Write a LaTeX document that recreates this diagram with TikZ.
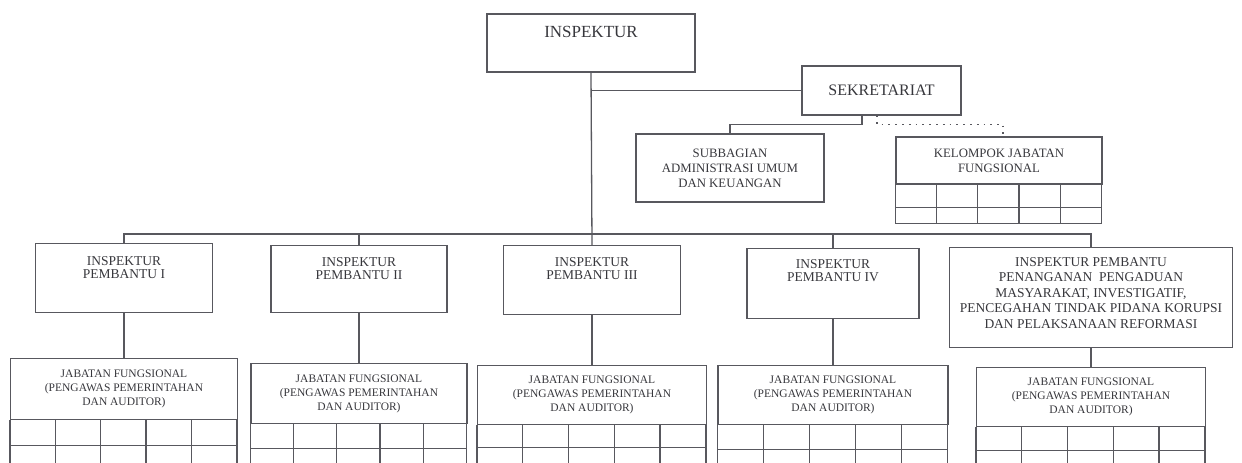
\documentclass[tikz,border=0pt]{standalone}
\usepackage{fontspec}
\setmainfont{Liberation Serif}
\usetikzlibrary{positioning,calc}
\definecolor{ScanInk}{RGB}{55,55,60}
\definecolor{ScanLine}{RGB}{88,88,94}

\tikzset{
  frame/.style={draw=ScanLine, line width=1.3pt, inner sep=0pt, text=ScanInk, align=center},
  caption/.style={inner sep=0pt, text=ScanInk, align=center},
  link/.style={draw=ScanLine, line width=1.3pt},
  dotlink/.style={link, line width=1.6pt, dash pattern=on 1.8pt off 5pt},
  cell/.style={draw=ScanLine, line width=1.3pt},
}
\newcommand{\fbig}{\fontsize{17}{20}\selectfont}
\newcommand{\fmid}{\fontsize{16}{19}\selectfont}
\newcommand{\fsub}{\fontsize{12.8}{15}\selectfont}
\newcommand{\firb}{\fontsize{13.5}{13.5}\selectfont}
\newcommand{\firbw}{\fontsize{13.5}{15.5}\selectfont}
\newcommand{\fjf}{\fontsize{11.5}{14}\selectfont}

\begin{document}
\begin{tikzpicture}[x=1pt,y=-1pt]
  \useasboundingbox (0,0) rectangle (1242,463);
  \clip (0,0) rectangle (1242,463);

  % pimpinan dan sekretariat
  \node[frame, minimum width=208pt, minimum height=58pt] (inspektur) at (591,43) {};
  \node[caption, font=\fbig, below=13pt of inspektur.north] (inspektur-t) {INSPEKTUR};
  \node[frame, font=\fmid, minimum width=159pt, minimum height=49pt] (sekretariat) at (881.5,90.5) {SEKRETARIAT};
  \node[frame, font=\fsub, minimum width=188pt, minimum height=68pt] (subbag) at (730,168)
    {SUBBAGIAN\\ADMINISTRASI UMUM\\DAN KEUANGAN};
  \node[frame, font=\fsub, minimum width=206pt, minimum height=47pt] (kelompok) at (999,160.5)
    {KELOMPOK JABATAN\\FUNGSIONAL};
  \draw[cell] (kelompok.south west) rectangle ++(206,39);
  \draw[cell] ($(kelompok.south west)+(0,23)$) -- ++(206,0);
  \foreach \c in {1,...,4}
    \draw[cell] ($(kelompok.south west)+(\c*41.2,0)$) -- ++(0,39);

  % inspektur pembantu
  \node[frame, minimum width=177pt, minimum height=69pt, anchor=north] (irban1) at (124,243) {};
  \node[caption, font=\firb, below=13pt of irban1.north] (irban1-t) {INSPEKTUR\\PEMBANTU I};
  \node[frame, minimum width=176pt, minimum height=67pt, anchor=north] (irban2) at (359,245) {};
  \node[caption, font=\firb, below=12pt of irban2.north] (irban2-t) {INSPEKTUR\\PEMBANTU II};
  \node[frame, minimum width=177pt, minimum height=69pt, anchor=north] (irban3) at (592,245) {};
  \node[caption, font=\firb, below=12pt of irban3.north] (irban3-t) {INSPEKTUR\\PEMBANTU III};
  \node[frame, minimum width=172pt, minimum height=70pt, anchor=north] (irban4) at (833,248) {};
  \node[caption, font=\firb, below=11pt of irban4.north] (irban4-t) {INSPEKTUR\\PEMBANTU IV};
  \node[frame, minimum width=283pt, minimum height=100pt, anchor=north] (irban5) at (1091,247) {};
  \node[caption, font=\firbw, below=10pt of irban5.north] (irban5-t)
    {INSPEKTUR PEMBANTU\\PENANGANAN\ \ PENGADUAN\\MASYARAKAT, INVESTIGATIF,\\
     PENCEGAHAN TINDAK PIDANA KORUPSI\\DAN PELAKSANAAN REFORMASI};

  % jabatan fungsional tiap irban
  \foreach \n/\x/\t/\h/\w/\r in {1/124/358/61/227/25, 2/359/363/60/216/24,
      3/592/365/59/229/22, 4/833/365/59/230/24, 5/1091/367/59/229/23} {
    \node[frame, font=\fjf, minimum width=\w pt, minimum height=\h pt, anchor=north] (jf\n) at (\x,\t)
      {JABATAN FUNGSIONAL\\(PENGAWAS PEMERINTAHAN\\DAN AUDITOR)};
    \draw[cell] ($(jf\n.south west)+(0,\r)$) -- ++(\w,0);
    \foreach \c in {0,...,5}
      \draw[cell] ($(jf\n.south west)+(\c*\w/5,0)$) -- ++(0,60);
    \draw[link] (irban\n.south) -- (jf\n.north);
  }

  % garis hubungan
  \coordinate (bus) at (592,234);
  \draw[link] (inspektur.south) -- (irban3.north);
  \draw[link] (inspektur.south |- sekretariat.west) -- (sekretariat.west);
  \draw[link] ([xshift=-19.5pt]sekretariat.south) -- ++(0,9) -| (subbag.north);
  \draw[dotlink] ([xshift=-4.5pt]sekretariat.south) -- ++(0,9) -| ([xshift=4pt]kelompok.north);
  \draw[link] (irban1.north) |- (bus) -| (irban5.north);
  \draw[link] (irban2.north) -- (irban2.north |- bus);
  \draw[link] (irban4.north) -- (irban4.north |- bus);
\end{tikzpicture}
\end{document}
